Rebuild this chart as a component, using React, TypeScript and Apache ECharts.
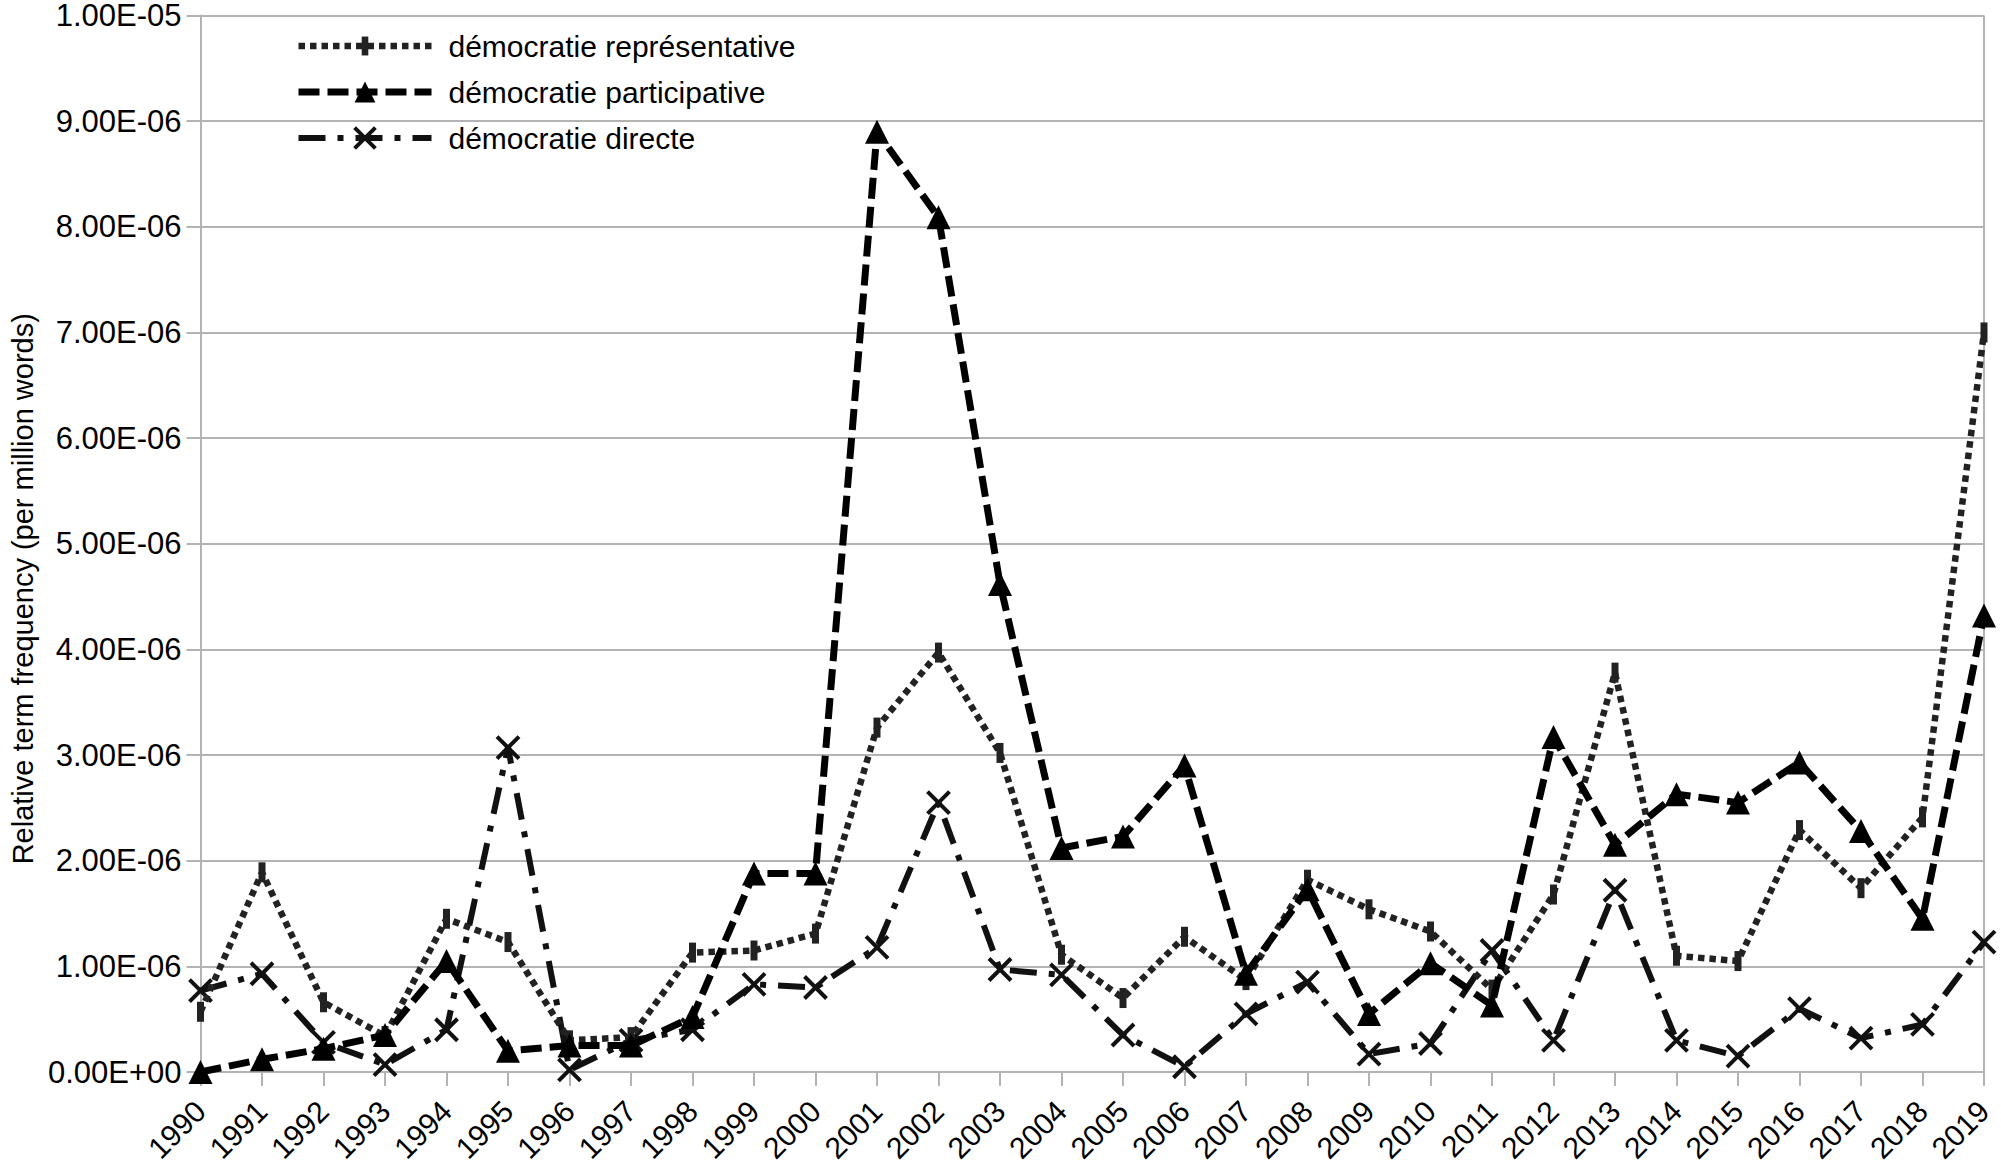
import React, { useEffect, useRef } from "react";
import * as echarts from "echarts";

const years = [
  "1990", "1991", "1992", "1993", "1994", "1995", "1996", "1997", "1998", "1999",
  "2000", "2001", "2002", "2003", "2004", "2005", "2006", "2007", "2008", "2009",
  "2010", "2011", "2012", "2013", "2014", "2015", "2016", "2017", "2018", "2019",
];

// values in millionths (×1E-06)
const representative = [
  0.57, 1.89, 0.66, 0.34, 1.45, 1.23, 0.3, 0.33, 1.13, 1.15,
  1.31, 3.26, 3.97, 3.02, 1.11, 0.7, 1.28, 0.87, 1.82, 1.54,
  1.33, 0.78, 1.68, 3.78, 1.1, 1.05, 2.29, 1.74, 2.41, 7.0,
];
const participative = [
  0.0, 0.12, 0.22, 0.35, 1.05, 0.2, 0.25, 0.25, 0.52, 1.88,
  1.88, 8.9, 8.09, 4.62, 2.12, 2.23, 2.9, 0.93, 1.73, 0.55,
  1.03, 0.63, 3.17, 2.15, 2.63, 2.55, 2.93, 2.28, 1.45, 4.32,
];
const directe = [
  0.77, 0.93, 0.28, 0.07, 0.4, 3.07, 0.02, 0.3, 0.4, 0.83,
  0.8, 1.18, 2.55, 0.97, 0.92, 0.35, 0.05, 0.55, 0.85, 0.17,
  0.27, 1.15, 0.3, 1.72, 0.3, 0.15, 0.6, 0.32, 0.45, 1.23,
];

const seriesNames = [
  "démocratie représentative",
  "démocratie participative",
  "démocratie directe",
];

const FONT = "'Liberation Sans', Arial, sans-serif";

function fmtExp(v: number): string {
  if (Math.abs(v) < 1e-15) return "0.00E+00";
  const s = v.toExponential(2);
  const [m, e] = s.split("e");
  const n = parseInt(e, 10);
  const sign = n < 0 ? "-" : "+";
  return m + "E" + sign + String(Math.abs(n)).padStart(2, "0");
}

// square bounding box (via move-to points) with a narrow vertical bar in its middle
const barSymbol = "path://M0,0M22,22M7.5,1L14.5,1L14.5,21L7.5,21Z";
const crossSymbol = "path://M0,0L10,10M10,0L0,10";

export default function App() {
  const ref = useRef<HTMLDivElement>(null);

  useEffect(() => {
    if (!ref.current) return;
    const chart = echarts.init(ref.current, null, { renderer: "svg" });
    const scale = (arr: number[]) => arr.map((v) => v * 1e-6);

    const repLine = { color: "#222", width: 6.5, type: [6.5, 5] as number[], cap: "butt" };
    const parLine = { color: "#000", width: 7, type: [21, 8] as number[], cap: "butt" };
    const dirLine = { color: "#111", width: 6, type: [27, 12, 6, 12] as number[], cap: "butt" };

    chart.setOption({
      animation: false,
      backgroundColor: "#fff",
      grid: { left: 192, right: 17, top: 15, bottom: 96, containLabel: false },
      legend: {
        orient: "vertical",
        left: 290,
        top: 26,
        itemWidth: 133,
        itemHeight: 26,
        itemGap: 16,
        textStyle: { fontFamily: FONT, fontSize: 30, color: "#000", padding: [0, 0, 0, 12] },
        data: [
          {
            name: seriesNames[0],
            lineStyle: repLine,
            itemStyle: { color: "#222" },
          },
          {
            name: seriesNames[1],
            lineStyle: parLine,
            itemStyle: { color: "#000" },
          },
          {
            name: seriesNames[2],
            lineStyle: dirLine,
            itemStyle: { color: "transparent", borderColor: "#111", borderWidth: 4 },
          },
        ],
      },
      xAxis: {
        type: "category",
        data: years,
        boundaryGap: false,
        axisLine: { show: true, lineStyle: { color: "#b3b3b3", width: 2 } },
        axisTick: { show: true, length: 14, alignWithLabel: true, lineStyle: { color: "#b3b3b3", width: 2 } },
        axisLabel: {
          interval: 0,
          rotate: 45,
          margin: 34,
          fontFamily: FONT,
          fontSize: 30,
          color: "#000",
        },
        splitLine: {
          show: true,
          interval: (i: number) => i === years.length - 1,
          lineStyle: { color: "#b3b3b3", width: 2 },
        },
      },
      yAxis: {
        type: "value",
        min: 0,
        max: 1e-5,
        interval: 1e-6,
        name: "Relative term frequency (per million words)",
        nameLocation: "middle",
        nameGap: 160,
        nameTextStyle: { fontFamily: FONT, fontSize: 29, color: "#000", padding: [0, 90, 0, 0] },
        axisLine: { show: true, lineStyle: { color: "#b3b3b3", width: 2 } },
        axisTick: { show: true, length: 14, lineStyle: { color: "#b3b3b3", width: 2 } },
        axisLabel: {
          margin: 19,
          fontFamily: FONT,
          fontSize: 31,
          lineHeight: 30,
          color: "#000",
          formatter: (v: number) => fmtExp(v),
        },
        splitLine: { show: true, lineStyle: { color: "#b3b3b3", width: 2 } },
      },
      series: [
        {
          name: seriesNames[0],
          type: "line",
          data: scale(representative),
          symbol: barSymbol,
          symbolSize: 22,
          itemStyle: { color: "#222" },
          lineStyle: repLine,
          z: 3,
        },
        {
          name: seriesNames[1],
          type: "line",
          data: scale(participative),
          symbol: "triangle",
          symbolSize: 24,
          itemStyle: { color: "#000" },
          lineStyle: parLine,
          z: 4,
        },
        {
          name: seriesNames[2],
          type: "line",
          data: scale(directe),
          symbol: crossSymbol,
          symbolSize: 22,
          itemStyle: { color: "transparent", borderColor: "#111", borderWidth: 4 },
          lineStyle: dirLine,
          z: 2,
        },
      ],
    });

    return () => chart.dispose();
  }, []);

  return (
    <div
      ref={ref}
      style={{ position: "fixed", left: 0, top: 0, width: 2001, height: 1168, background: "#fff" }}
    />
  );
}
